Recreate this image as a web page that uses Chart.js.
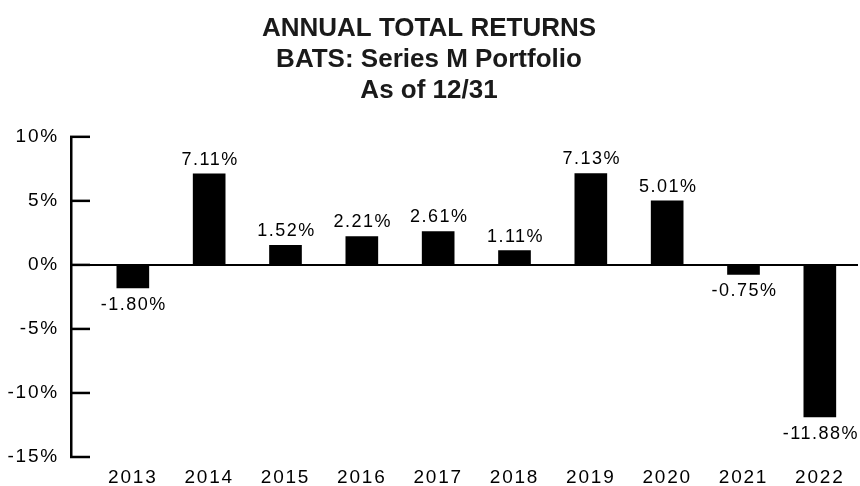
<!DOCTYPE html>
<html>
<head>
<meta charset="utf-8">
<script src="https://cdn.jsdelivr.net/npm/chart.js@4.4.0/dist/chart.umd.min.js"></script>
<style>
  html, body { margin: 0; padding: 0; background: #fff; }
  #wrap { width: 860px; height: 486px; }
</style>
</head>
<body>
<div id="wrap"><canvas id="canvas"></canvas></div>
<script>
/* data */
const years = ['2013', '2014', '2015', '2016', '2017', '2018', '2019', '2020', '2021', '2022'];
const returns = [-1.80, 7.11, 1.52, 2.21, 2.61, 1.11, 7.13, 5.01, -0.75, -11.88];
const yTicks = [-15, -10, -5, 0, 5, 10];
const titleLines = ['ANNUAL TOTAL RETURNS', 'BATS: Series M Portfolio', 'As of 12/31'];

/* labels over / under the bars */
const barLabels = {
  id: 'barLabels',
  afterDatasetsDraw(chart) {
    const ctx = chart.ctx;
    const meta = chart.getDatasetMeta(0);
    ctx.save();
    ctx.font = '18px "Liberation Sans", Arial, sans-serif';
    ctx.letterSpacing = '1.5px';
    ctx.fillStyle = '#000';
    ctx.textAlign = 'center';
    ctx.textBaseline = 'alphabetic';
    meta.data.forEach(function(bar, i) {
      const v = returns[i];
      const mid = v >= 0 ? bar.y - 15.5 : bar.y + 15.5;
      ctx.fillText(v.toFixed(2) + '%', bar.x + 1, mid + 6.4);
    });
    ctx.restore();
  }
};

/* tick marks pointing into the plot */
const innerTicks = {
  id: 'innerTicks',
  afterDraw(chart) {
    const y = chart.scales.y;
    const ctx = chart.ctx;
    ctx.save();
    ctx.strokeStyle = '#000';
    ctx.lineWidth = 2.5;
    y.ticks.forEach(function(t) {
      const py = y.getPixelForValue(t.value);
      ctx.beginPath();
      ctx.moveTo(y.right - 1, py);
      ctx.lineTo(y.right + 19, py);
      ctx.stroke();
    });
    ctx.restore();
  }
};

/* wider letter spacing for the axis text (title is drawn before this) */
const spacing = {
  id: 'spacing',
  beforeDatasetsDraw(chart) { chart.ctx.letterSpacing = '1.8px'; },
  afterDraw(chart) { chart.ctx.letterSpacing = '0px'; }
};

const ctx = document.getElementById('canvas');
new Chart(ctx, {
  type: 'bar',
  data: {
    datasets: [{
      data: returns.map(function(v, i) { return { x: i, y: v }; }),
      backgroundColor: '#000',
      borderWidth: 0,
      barThickness: 32
    }]
  },
  options: {
    responsive: true,
    maintainAspectRatio: false,
    animation: false,
    layout: { padding: { left: 0, right: 2, top: 0, bottom: 0 } },
    plugins: {
      legend: { display: false },
      tooltip: { enabled: false },
      title: {
        display: true,
        text: titleLines,
        color: '#1a1a1a',
        font: { family: '"Liberation Sans", Arial, sans-serif', size: 26, weight: 'bold', lineHeight: 1.19 },
        padding: { top: 13, bottom: 31 }
      }
    },
    scales: {
      x: {
        type: 'linear',
        offset: false,
        min: -0.81,
        max: 9.5,
        grid: { display: false },
        border: { display: false },
        afterBuildTicks: function(s) {
          s.ticks = years.map(function(y, i) { return { value: i }; });
        },
        afterFit: function(s) { s.height = 29; },
        ticks: {
          z: 1,
          autoSkip: false,
          maxRotation: 0,
          padding: 1,
          color: '#000',
          font: { family: '"Liberation Sans", Arial, sans-serif', size: 19 },
          callback: function(v) { return years[v]; }
        }
      },
      y: {
        min: -15,
        max: 10,
        afterBuildTicks: function(s) {
          s.ticks = yTicks.map(function(v) { return { value: v }; });
        },
        afterFit: function(s) { s.width = 71; },
        grid: {
          drawTicks: false,
          lineWidth: 2,
          color: function(c) { return c.tick && c.tick.value === 0 ? '#000' : 'rgba(0,0,0,0)'; }
        },
        border: { display: true, color: '#000', width: 2.5 },
        ticks: {
          z: 1,
          padding: 12,
          color: '#000',
          font: { family: '"Liberation Sans", Arial, sans-serif', size: 19 },
          callback: function(v) { return v + '%'; }
        }
      }
    }
  },
  plugins: [spacing, barLabels, innerTicks]
});
</script>
</body>
</html>
